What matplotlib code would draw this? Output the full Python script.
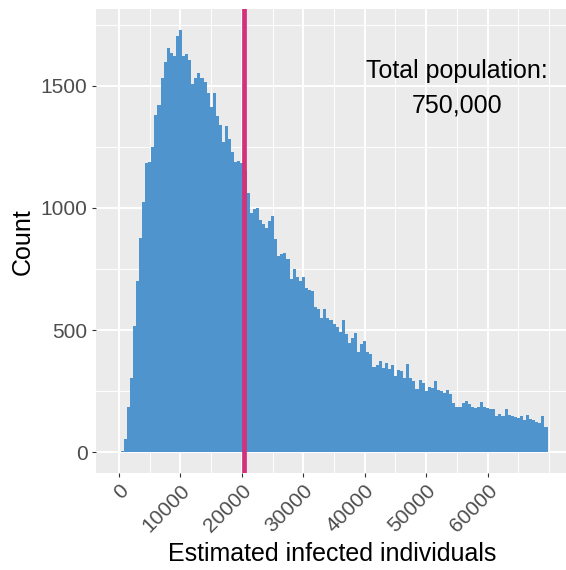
import numpy as np
import matplotlib
matplotlib.use("Agg")
import matplotlib.pyplot as plt
from matplotlib.ticker import FixedLocator

plt.rcParams['font.family'] = ['Liberation Sans', 'DejaVu Sans']

# ---- data ----
bin_width = 500
bin_start = -250
counts = [0, 5, 55, 187, 303, 518, 702, 877, 1023, 1182,
          1187, 1250, 1380, 1422, 1530, 1595, 1654, 1635, 1622, 1703,
          1726, 1620, 1628, 1603, 1505, 1530, 1553, 1533, 1515, 1471,
          1413, 1471, 1376, 1340, 1270, 1335, 1280, 1230, 1187, 1191,
          1184, 1150, 1061, 977, 995, 999, 949, 935, 916, 945,
          968, 873, 804, 812, 814, 790, 710, 751, 716, 700,
          716, 672, 663, 658, 593, 586, 550, 586, 550, 543,
          523, 513, 490, 541, 484, 446, 466, 487, 412, 443,
          455, 409, 402, 348, 358, 374, 344, 367, 342, 358,
          310, 335, 334, 303, 361, 303, 293, 258, 296, 285,
          251, 266, 262, 292, 255, 252, 244, 255, 239, 203,
          184, 187, 200, 211, 196, 184, 180, 187, 204, 186,
          180, 177, 176, 148, 157, 148, 176, 153, 148, 143,
          139, 148, 132, 151, 135, 132, 125, 121, 149, 102]
median_value = 20400
x_ticks = [0, 10000, 20000, 30000, 40000, 50000, 60000]
x_minor = [5000, 15000, 25000, 35000, 45000, 55000, 65000, 70000]
y_ticks = [0, 500, 1000, 1500]
y_minor = [250, 750, 1250, 1750]
annot_lines = ["Total population:", "750,000"]
annot_x = 55000
annot_y = [1531, 1388]
x_title = "Estimated infected individuals"
y_title = "Count"

edges = bin_start + bin_width * np.arange(len(counts) + 1)

# ---- figure ----
W, H = 566, 570
fig = plt.figure(figsize=(W / 100, H / 100), dpi=100)
fig.patch.set_facecolor("white")
left, right, top, bottom = 96.0, 569.0, 9.3, 473.3
ax = fig.add_axes([left / W, 1 - bottom / H, (right - left) / W, (bottom - top) / H])
ax.set_facecolor("#EBEBEB")
for s in ax.spines.values():
    s.set_visible(False)

ax.stairs(counts, edges, fill=True, color="#4F94CD", linewidth=0, zorder=2)
ax.axvline(median_value, color="#D3317A", linewidth=3.4, zorder=3)

xr = edges[-1] - edges[0]
ax.set_xlim(edges[0] - 0.05 * xr, edges[-1] + 0.05 * xr)
ymax = max(counts)
ax.set_ylim(-0.05 * ymax, 1.05 * ymax)

ax.xaxis.set_major_locator(FixedLocator(x_ticks))
ax.xaxis.set_minor_locator(FixedLocator(x_minor))
ax.yaxis.set_major_locator(FixedLocator(y_ticks))
ax.yaxis.set_minor_locator(FixedLocator(y_minor))
ax.set_xticklabels([str(v) for v in x_ticks])
ax.set_yticklabels([str(v) for v in y_ticks])

ax.grid(which="major", color="white", linewidth=1.4, zorder=0)
ax.grid(which="minor", color="white", linewidth=0.7, zorder=0)
ax.set_axisbelow(True)

ax.tick_params(which="major", length=2.7, width=0.8, color="#333333",
               labelsize=15, labelcolor="#4D4D4D")
ax.tick_params(axis="y", which="major", pad=3.5)
ax.tick_params(axis="x", which="major", pad=3.0)
ax.tick_params(which="minor", length=0)
for lbl in ax.get_xticklabels():
    lbl.set_rotation(45)
    lbl.set_ha("right")
    lbl.set_va("top")
    lbl.set_rotation_mode("anchor")

ax.set_xlabel(x_title, fontsize=18, color="black", labelpad=4)
ax.set_ylabel(y_title, fontsize=18, color="black", labelpad=4.5)

for txt, yy in zip(annot_lines, annot_y):
    ax.text(annot_x, yy, txt, ha="center", va="baseline", fontsize=18,
            color="black", zorder=4)

fig.savefig("out.png", dpi=100)
